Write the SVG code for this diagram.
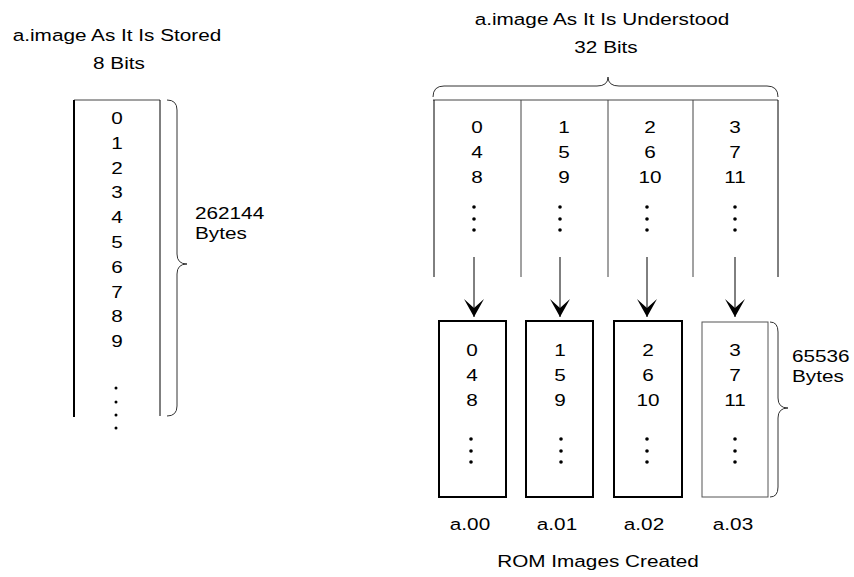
<svg xmlns="http://www.w3.org/2000/svg" width="854" height="577" viewBox="0 0 854 577">
<defs>
<style>
.t{font-family:"Liberation Sans",Arial,sans-serif;font-size:17px;fill:#000;text-anchor:middle}
.ts{font-family:"Liberation Sans",Arial,sans-serif;font-size:17px;fill:#000;text-anchor:start}
.ln{stroke:#000;stroke-width:1;fill:none}
.lg{stroke:#444;stroke-width:1;fill:none}
.thick{stroke:#000;stroke-width:2;fill:none}
.br{stroke:#333;stroke-width:1;fill:none}
.box{fill:#fff;stroke:#000;stroke-width:2}
.boxl{fill:#fff;stroke:#555;stroke-width:1}
.dot{fill:#000}
</style>
<marker id="ah" viewBox="-19 -11 20 22" refX="0" refY="0" markerWidth="20" markerHeight="22" markerUnits="userSpaceOnUse" orient="auto">
<path d="M0,0 L-18,-10 L-9,0 L-18,10 Z" fill="#000"/>
</marker>
</defs>
<rect width="854" height="577" fill="#fff"/>

<g id="stored">
<text class="t" transform="translate(117,41) scale(1.22,1)">a.image As It Is Stored</text>
<text class="t" transform="translate(119,69) scale(1.22,1)">8 Bits</text>
<line class="lg" x1="74" y1="100" x2="160" y2="100"/>
<line class="thick" x1="74" y1="100" x2="74" y2="417"/>
<line class="ln" x1="160" y1="100" x2="160" y2="416"/>
<text class="t" transform="translate(117,124) scale(1.22,1)">0</text>
<text class="t" transform="translate(117,149) scale(1.22,1)">1</text>
<text class="t" transform="translate(117,174) scale(1.22,1)">2</text>
<text class="t" transform="translate(117,198) scale(1.22,1)">3</text>
<text class="t" transform="translate(117,223) scale(1.22,1)">4</text>
<text class="t" transform="translate(117,248) scale(1.22,1)">5</text>
<text class="t" transform="translate(117,273) scale(1.22,1)">6</text>
<text class="t" transform="translate(117,298) scale(1.22,1)">7</text>
<text class="t" transform="translate(117,322) scale(1.22,1)">8</text>
<text class="t" transform="translate(117,347) scale(1.22,1)">9</text>
<circle class="dot" cx="116" cy="388" r="1.5"/>
<circle class="dot" cx="116" cy="402" r="1.5"/>
<circle class="dot" cx="116" cy="415" r="1.5"/>
<circle class="dot" cx="116" cy="428" r="1.5"/>
<path class="br" d="M167,100 Q177,100 177,110 L177,254 Q177,264 187,264 Q177,264 177,274 L177,406 Q177,416 167,416"/>
<text class="ts" transform="translate(195,219) scale(1.22,1)">262144</text>
<text class="ts" transform="translate(195,239) scale(1.22,1)">Bytes</text>
</g>

<g id="understood">
<text class="t" transform="translate(602,25) scale(1.22,1)">a.image As It Is Understood</text>
<text class="t" transform="translate(606,53) scale(1.22,1)">32 Bits</text>
<path class="br" d="M433,97 Q433,86 444,86 L597,86 Q608,86 608,77 Q608,86 619,86 L767,86 Q778,86 778,97"/>
<line class="lg" x1="433" y1="100" x2="778" y2="100"/>
<line class="ln" x1="434" y1="100" x2="434" y2="277"/>
<line class="lg" x1="521" y1="100" x2="521" y2="277"/>
<line class="lg" x1="608" y1="100" x2="608" y2="277"/>
<line class="lg" x1="693" y1="100" x2="693" y2="277"/>
<line class="ln" x1="778" y1="100" x2="778" y2="277"/>
<text class="t" transform="translate(477,133) scale(1.22,1)">0</text>
<text class="t" transform="translate(477,158) scale(1.22,1)">4</text>
<text class="t" transform="translate(477,183) scale(1.22,1)">8</text>
<text class="t" transform="translate(564,133) scale(1.22,1)">1</text>
<text class="t" transform="translate(564,158) scale(1.22,1)">5</text>
<text class="t" transform="translate(564,183) scale(1.22,1)">9</text>
<text class="t" transform="translate(650,133) scale(1.22,1)">2</text>
<text class="t" transform="translate(650,158) scale(1.22,1)">6</text>
<text class="t" transform="translate(650,183) scale(1.22,1)">10</text>
<text class="t" transform="translate(735,133) scale(1.22,1)">3</text>
<text class="t" transform="translate(735,158) scale(1.22,1)">7</text>
<text class="t" transform="translate(735,183) scale(1.22,1)">11</text>
<circle class="dot" cx="474" cy="207" r="1.8"/><circle class="dot" cx="474" cy="219" r="1.8"/><circle class="dot" cx="474" cy="230" r="1.8"/>
<circle class="dot" cx="560" cy="207" r="1.8"/><circle class="dot" cx="560" cy="219" r="1.8"/><circle class="dot" cx="560" cy="230" r="1.8"/>
<circle class="dot" cx="647" cy="207" r="1.8"/><circle class="dot" cx="647" cy="219" r="1.8"/><circle class="dot" cx="647" cy="230" r="1.8"/>
<circle class="dot" cx="735" cy="207" r="1.8"/><circle class="dot" cx="735" cy="219" r="1.8"/><circle class="dot" cx="735" cy="230" r="1.8"/>
</g>

<g id="connectors">
<line class="ln" x1="474" y1="257" x2="474" y2="317" marker-end="url(#ah)"/>
<line class="ln" x1="560" y1="257" x2="560" y2="317" marker-end="url(#ah)"/>
<line class="ln" x1="647" y1="257" x2="647" y2="317" marker-end="url(#ah)"/>
<line class="ln" x1="735" y1="257" x2="735" y2="317" marker-end="url(#ah)"/>
</g>

<g id="rom00">
<rect class="box" x="439" y="321" width="67" height="176"/>
<text class="t" transform="translate(472,356) scale(1.22,1)">0</text>
<text class="t" transform="translate(472,381) scale(1.22,1)">4</text>
<text class="t" transform="translate(472,406) scale(1.22,1)">8</text>
<circle class="dot" cx="471" cy="439" r="1.8"/><circle class="dot" cx="471" cy="451" r="1.8"/><circle class="dot" cx="471" cy="462" r="1.8"/>
<text class="t" transform="translate(470,530) scale(1.22,1)">a.00</text>
</g>
<g id="rom01">
<rect class="box" x="526" y="321" width="67" height="176"/>
<text class="t" transform="translate(560,356) scale(1.22,1)">1</text>
<text class="t" transform="translate(560,381) scale(1.22,1)">5</text>
<text class="t" transform="translate(560,406) scale(1.22,1)">9</text>
<circle class="dot" cx="561" cy="439" r="1.8"/><circle class="dot" cx="561" cy="451" r="1.8"/><circle class="dot" cx="561" cy="462" r="1.8"/>
<text class="t" transform="translate(557,530) scale(1.22,1)">a.01</text>
</g>
<g id="rom02">
<rect class="box" x="614" y="321" width="68" height="176"/>
<text class="t" transform="translate(648,356) scale(1.22,1)">2</text>
<text class="t" transform="translate(648,381) scale(1.22,1)">6</text>
<text class="t" transform="translate(648,406) scale(1.22,1)">10</text>
<circle class="dot" cx="647" cy="439" r="1.8"/><circle class="dot" cx="647" cy="451" r="1.8"/><circle class="dot" cx="647" cy="462" r="1.8"/>
<text class="t" transform="translate(644,530) scale(1.22,1)">a.02</text>
</g>
<g id="rom03">
<rect class="boxl" x="702" y="322" width="66" height="175"/>
<text class="t" transform="translate(735,356) scale(1.22,1)">3</text>
<text class="t" transform="translate(735,381) scale(1.22,1)">7</text>
<text class="t" transform="translate(735,406) scale(1.22,1)">11</text>
<circle class="dot" cx="735" cy="439" r="1.8"/><circle class="dot" cx="735" cy="451" r="1.8"/><circle class="dot" cx="735" cy="462" r="1.8"/>
<text class="t" transform="translate(733,530) scale(1.22,1)">a.03</text>
<path class="br" d="M770,322 Q778,322 778,332 L778,398 Q778,408 788,408 Q778,408 778,418 L778,487 Q778,497 770,497"/>
<text class="ts" transform="translate(792,362) scale(1.22,1)">65536</text>
<text class="ts" transform="translate(792,382) scale(1.22,1)">Bytes</text>
</g>

<g id="caption">
<text class="t" transform="translate(598,567) scale(1.22,1)">ROM Images Created</text>
</g>
</svg>
